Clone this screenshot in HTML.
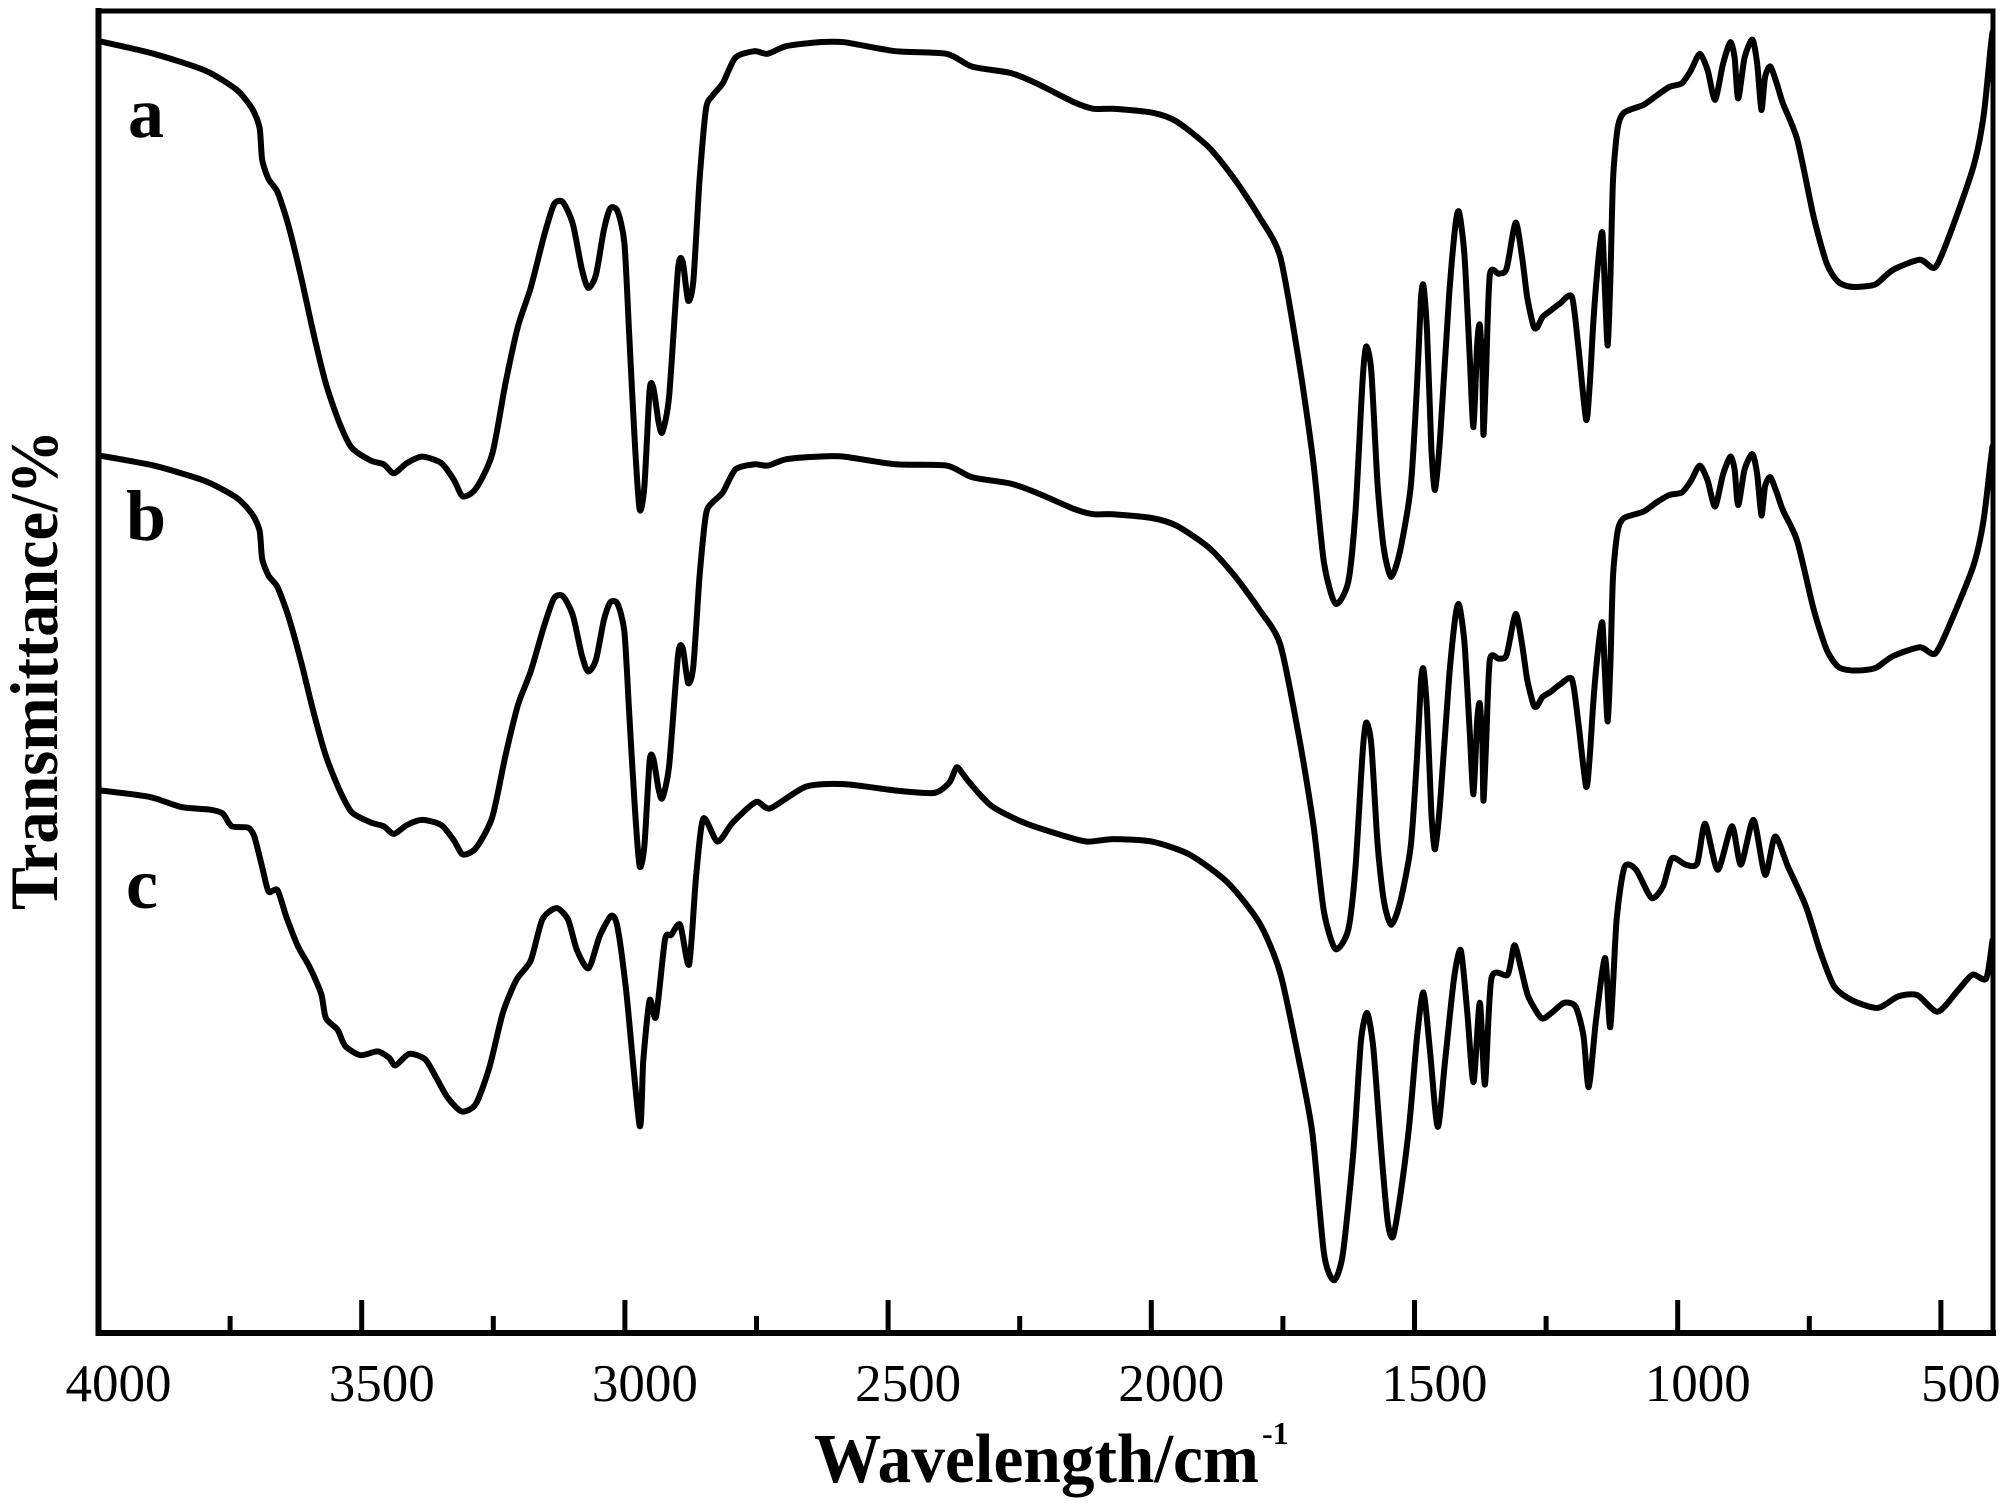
<!DOCTYPE html>
<html><head><meta charset="utf-8"><style>
html,body{margin:0;padding:0;background:#fff;}
svg{display:block;}
text{font-family:"Liberation Serif","Times New Roman",serif;fill:#000;}
</style></head><body>
<svg id="chart" width="2004" height="1505" viewBox="0 0 2004 1505">
<g id="frame"></g>
<g id="ticks"></g>
<g id="series"></g>
<text x="128" y="137" font-size="72" font-weight="bold">a</text>
<text x="126" y="540" font-size="72" font-weight="bold">b</text>
<text x="126" y="908" font-size="72" font-weight="bold">c</text>
<text x="814" y="1482" font-size="70" font-weight="bold" textLength="445" lengthAdjust="spacingAndGlyphs">Wavelength/cm</text>
<text x="1262" y="1444" font-size="32" font-weight="bold">-1</text>
<text transform="translate(57,670) rotate(-90)" text-anchor="middle" font-size="68" font-weight="bold" textLength="480" lengthAdjust="spacingAndGlyphs">Transmittance/%</text>
</svg>
<script>
const xTicks = [4000, 3500, 3000, 2500, 2000, 1500, 1000, 500];
const xMinorTicks = [3750, 3250, 2750, 2250, 1750, 1250, 750];
const wnA = [4000,3895,3798,3738,3708,3694,3689,3677,3660,3640,3616,3592,3568,3543,3519,3483,3458,3439,3414,3385,3349,3325,3308,3283,3252,3227,3203,3179,3154,3135,3118,3099,3082,3070,3055,3040,3028,3014,3001,2992,2982,2972,2963,2953,2946,2936,2929,2916,2899,2890,2880,2870,2858,2846,2834,2814,2790,2754,2729,2693,2632,2584,2486,2389,2341,2268,2219,2146,2110,2073,1999,1952,1891,1842,1794,1755,1719,1692,1672,1650,1626,1612,1599,1592,1582,1570,1558,1544,1527,1507,1495,1488,1483,1476,1468,1461,1451,1434,1422,1415,1405,1395,1388,1381,1376,1371,1369,1364,1357,1340,1325,1308,1296,1286,1274,1267,1257,1242,1223,1201,1189,1174,1167,1160,1150,1143,1138,1133,1128,1123,1114,1102,1065,1041,1016,992,975,958,943,929,914,900,892,885,873,858,849,841,834,824,812,800,773,742,717,696,674,647,623,591,540,511,482,438,419,406,402];
const seriesA = [100.8,99.8,98.5,97.0,95.5,94.0,91.5,90.0,89.0,86.5,82.5,78.0,74.0,71.0,69.0,68.0,67.7,67.0,67.8,68.3,67.8,66.5,65.2,65.8,68.5,74.0,78.5,81.5,85.5,88.0,88.2,86.5,83.0,81.5,82.5,86.0,87.7,87.5,85.0,78.0,70.0,64.2,66.0,73.5,73.7,71.0,70.2,73.0,83.0,83.5,80.5,82.0,90.0,95.5,96.5,97.5,99.5,100.0,99.8,100.4,100.7,100.7,100.0,99.8,98.8,98.3,97.5,96.0,95.5,95.5,95.2,94.5,92.5,90.0,87.0,83.9,75.6,67.8,60.0,56.8,58.5,64.0,74.0,76.9,75.0,66.0,61.0,58.9,61.0,66.0,74.0,80.5,81.7,78.0,69.0,65.7,70.0,81.0,86.5,87.4,84.0,76.0,70.6,77.0,78.6,75.0,70.0,75.0,82.5,82.6,83.0,86.6,84.0,80.8,78.5,78.4,79.2,79.7,80.3,80.8,77.0,71.2,74.0,79.0,84.0,85.8,81.0,77.0,82.0,89.9,94.0,95.2,95.8,96.5,97.2,97.5,98.5,99.8,98.5,96.2,99.0,100.7,99.5,96.3,99.5,100.9,99.0,95.4,98.0,98.8,97.5,95.9,93.1,87.1,83.4,82.0,81.6,81.6,81.8,82.9,83.7,83.1,85.8,91.0,94.9,100.1,101.5];
const seriesB = [68.4,67.6,66.4,65.1,63.8,62.5,60.3,59.0,58.1,55.9,52.4,48.4,44.9,42.3,40.5,39.7,39.4,38.8,39.5,39.9,39.5,38.3,37.2,37.7,40.1,44.9,48.9,51.5,55.0,57.2,57.4,55.9,52.8,51.5,52.4,55.5,56.9,56.8,54.6,48.4,41.4,36.3,37.9,44.5,44.7,42.3,41.6,44.1,52.8,53.3,50.6,51.9,59.0,63.8,64.7,65.5,67.3,67.7,67.6,68.1,68.3,68.3,67.7,67.6,66.7,66.2,65.5,64.2,63.8,63.8,63.5,62.9,61.2,59.0,56.3,53.6,46.3,39.5,32.7,29.8,31.3,36.2,44.9,47.5,45.8,37.9,33.5,31.7,33.5,37.9,44.9,50.6,51.7,48.4,40.5,37.6,41.4,51.1,55.9,56.7,53.7,46.7,41.9,47.6,49.0,45.8,41.4,45.8,52.4,52.5,52.8,56.0,53.7,50.9,48.9,48.8,49.5,49.9,50.5,50.9,47.6,42.5,44.9,49.3,53.7,55.3,51.1,47.6,51.9,58.9,62.5,63.5,64.0,64.7,65.3,65.5,66.4,67.6,66.4,64.4,66.9,68.3,67.3,64.5,67.3,68.5,66.9,63.7,66.0,66.7,65.5,64.1,61.7,56.4,53.2,51.9,51.6,51.6,51.8,52.7,53.4,52.9,55.3,59.8,63.3,67.8,69.1];
const wnC = [3995,3903,3842,3789,3764,3747,3716,3704,3689,3677,3660,3643,3621,3599,3577,3568,3546,3531,3502,3470,3448,3436,3410,3380,3359,3337,3310,3283,3257,3232,3206,3179,3157,3130,3108,3091,3069,3048,3026,3014,2997,2972,2965,2953,2941,2924,2912,2895,2878,2865,2851,2824,2795,2751,2724,2656,2584,2486,2413,2384,2370,2358,2345,2304,2243,2170,2122,2073,1999,1928,1855,1794,1755,1721,1694,1672,1653,1636,1616,1602,1590,1578,1563,1551,1541,1527,1510,1495,1483,1471,1456,1442,1425,1412,1400,1388,1376,1366,1354,1323,1310,1296,1284,1259,1240,1216,1194,1179,1169,1155,1138,1128,1116,1101,1079,1050,1028,1011,985,963,948,924,897,880,856,834,815,790,756,730,703,669,620,581,545,506,467,440,414,402];
const seriesC = [42.2,41.7,40.9,40.7,40.4,39.4,39.3,38.6,36.2,34.3,34.4,32.3,30.0,28.4,26.3,24.4,23.5,22.2,21.5,21.8,21.3,20.7,21.6,21.2,19.8,18.2,17.1,17.7,20.6,24.8,27.4,28.9,32.1,33.0,32.1,29.7,28.3,30.8,32.4,31.5,26.3,16.0,21.1,25.8,24.5,30.5,30.9,31.7,28.6,35.4,40.0,38.2,39.7,41.3,40.8,42.5,42.7,42.2,42.0,42.8,44.0,43.5,42.8,41.0,39.7,38.7,38.2,38.4,38.2,37.2,35.0,31.8,27.9,21.4,15.4,6.0,3.9,6.0,14.0,22.5,24.8,22.0,14.0,8.5,7.3,10.5,16.0,23.0,26.4,22.0,15.9,21.0,27.5,29.7,25.0,19.4,25.6,19.2,27.5,27.8,30.1,28.0,26.1,24.4,24.8,25.6,25.3,23.0,19.0,24.3,29.1,23.7,32.1,36.2,36.0,33.8,34.7,36.9,36.4,36.5,39.6,36.0,39.4,36.4,39.9,35.6,38.6,36.2,33.1,29.7,26.9,25.8,25.2,26.1,26.2,24.9,26.6,27.8,27.5,30.5];

const NS = 'http://www.w3.org/2000/svg';
const X0 = 98.5, PX_PER_500 = 263.2, Y0 = 1330.2, PX_PER_UNIT = 12.79;
const BOTTOM = 1333, TOP = 11, RIGHT = 1993;
function xScale(wn) { return X0 + (4000 - wn) / 500 * PX_PER_500; }
function yScale(v) { return Y0 - v * PX_PER_UNIT; }

const frame = document.getElementById('frame');
const ticksG = document.getElementById('ticks');
const seriesG = document.getElementById('series');

function line(parent, x1, y1, x2, y2, w) {
  const l = document.createElementNS(NS, 'line');
  l.setAttribute('x1', x1); l.setAttribute('y1', y1);
  l.setAttribute('x2', x2); l.setAttribute('y2', y2);
  l.setAttribute('stroke', '#000'); l.setAttribute('stroke-width', w);
  l.setAttribute('stroke-linecap', 'square');
  parent.appendChild(l);
  return l;
}
let e;
e = line(frame, X0, TOP, X0, BOTTOM, 6);


e = line(frame, X0, BOTTOM, RIGHT, BOTTOM, 6);


e = line(frame, X0, TOP, RIGHT, TOP, 5);


e = line(frame, RIGHT, TOP, RIGHT, BOTTOM, 5);



xTicks.forEach(function (t) {
  const x = xScale(t);
  const tk = line(ticksG, x, BOTTOM, x, BOTTOM - 33, 5);
  tk.setAttribute('stroke-linecap', 'butt');
  
  
  const tx = document.createElementNS(NS, 'text');
  tx.setAttribute('x', x + 20);
  tx.setAttribute('y', 1401);
  tx.setAttribute('text-anchor', 'middle');
  tx.setAttribute('font-size', '53');
  tx.textContent = String(t);
  
  
  ticksG.appendChild(tx);
});
xMinorTicks.forEach(function (t) {
  const x = xScale(t);
  const tk = line(ticksG, x, BOTTOM, x, BOTTOM - 17, 5);
  tk.setAttribute('stroke-linecap', 'butt');
  
  
});

function drawSeries(xs, ys, name) {
  const pts = [];
  for (let i = 0; i < xs.length && i < ys.length; i++) pts.push([xScale(xs[i]), yScale(ys[i])]);
  const k = 0.12;
  let d = 'M' + pts[0][0].toFixed(1) + ' ' + pts[0][1].toFixed(1);
  for (let i = 0; i < pts.length - 1; i++) {
    const p0 = pts[Math.max(0, i - 1)], p1 = pts[i], p2 = pts[i + 1], p3 = pts[Math.min(pts.length - 1, i + 2)];
    const c1x = p1[0] + (p2[0] - p0[0]) * k, c1y = p1[1] + (p2[1] - p0[1]) * k;
    const c2x = p2[0] - (p3[0] - p1[0]) * k, c2y = p2[1] - (p3[1] - p1[1]) * k;
    d += 'C' + c1x.toFixed(1) + ' ' + c1y.toFixed(1) + ' ' + c2x.toFixed(1) + ' ' + c2y.toFixed(1) + ' ' + p2[0].toFixed(1) + ' ' + p2[1].toFixed(1);
  }
  const p = document.createElementNS(NS, 'path');
  p.setAttribute('d', d);
  p.setAttribute('fill', 'none');
  p.setAttribute('stroke', '#000');
  p.setAttribute('stroke-width', '6');
  p.setAttribute('stroke-linejoin', 'round');
  p.setAttribute('stroke-linecap', 'round');
  
  
  seriesG.appendChild(p);
}
drawSeries(wnA, seriesA, 'spectrum-a');
drawSeries(wnA, seriesB, 'spectrum-b');
drawSeries(wnC, seriesC, 'spectrum-c');
</script>
</body></html>
